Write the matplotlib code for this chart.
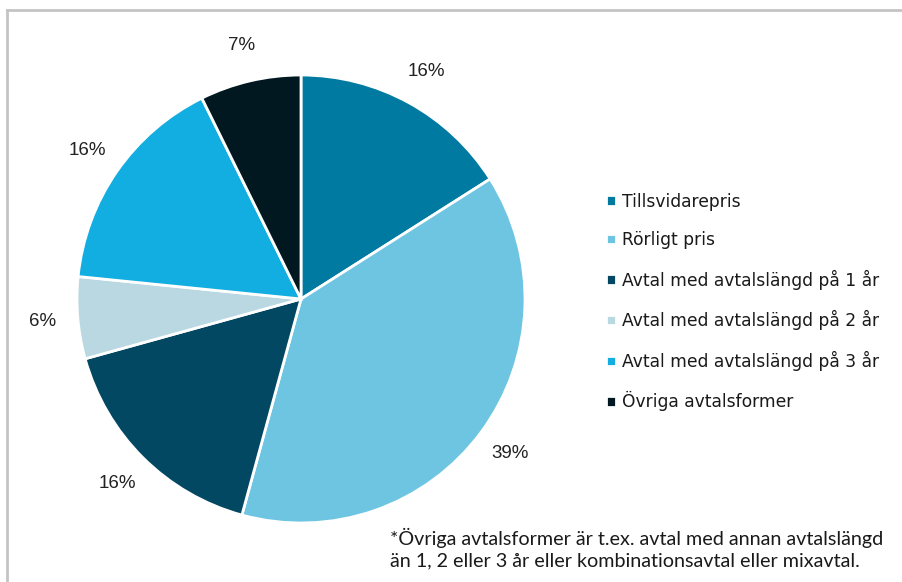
import matplotlib.pyplot as plt
from matplotlib.lines import Line2D

labels = ["Tillsvidarepris", "Rörligt pris", "Avtal med avtalslängd på 1 år",
          "Avtal med avtalslängd på 2 år", "Avtal med avtalslängd på 3 år",
          "Övriga avtalsformer"]
shares = [16.0, 38.25, 16.45, 5.9, 16.1, 7.3]
pct_labels = ["16%", "39%", "16%", "6%", "16%", "7%"]
colors = ["#007aa0", "#6ec5e2", "#034862", "#b9d8e1", "#12ade1", "#011820"]
note = ("*Övriga avtalsformer är t.ex. avtal med annan avtalslängd\n"
        "än 1, 2 eller 3 år eller kombinationsavtal eller mixavtal.")

W, H = 903, 582
fig = plt.figure(figsize=(W / 100, H / 100), dpi=100)

# frame lines (top and left only)
fig.add_artist(Line2D([7 / W, 1], [1 - 10 / H, 1 - 10 / H], color="#c4c4c4", lw=2))
fig.add_artist(Line2D([7 / W, 7 / W], [0, 1 - 10 / H], color="#c4c4c4", lw=2))

cx, cy, r = 301, 299, 224
ax = fig.add_axes([(cx - r) / W, (H - cy - r) / H, 2 * r / W, 2 * r / H])
wedges, texts = ax.pie(
    shares, labels=pct_labels, colors=colors, startangle=90, counterclock=False,
    radius=1, labeldistance=1.16,
    wedgeprops=dict(edgecolor="white", linewidth=2),
    textprops=dict(fontsize=13.5, color="#222222", family="Liberation Sans"))
for t in texts:
    t.set_ha("center")
    t.set_va("center")
ax.set_xlim(-1, 1)
ax.set_ylim(-1, 1)
ax.set_aspect("equal")
ax.axis("off")

leg = fig.legend(wedges, labels, loc="center left", bbox_to_anchor=(591 / W, 1 - 302 / H),
                 frameon=False, handlelength=0.55, handleheight=0.55, handletextpad=0.35,
                 labelspacing=1.2, prop=dict(family="DejaVu Sans", size=12.3))
for t in leg.get_texts():
    t.set_color("#1a1a1a")

fig.text(390 / W, 1 - 528 / H, note, ha="left", va="top", fontsize=14.2,
         family="Lato", color="#1a1a1a", linespacing=1.3)

fig.savefig("out.png", dpi=100, facecolor="white")
